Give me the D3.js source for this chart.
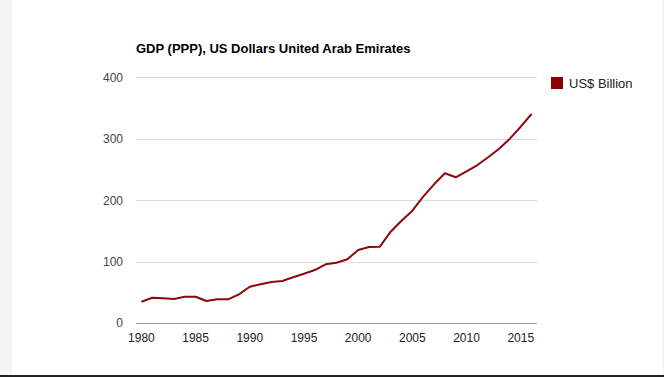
<!DOCTYPE html>
<html>
<head>
<meta charset="utf-8">
<script src="https://cdn.jsdelivr.net/npm/d3@7"></script>
<style>
  html, body { margin: 0; padding: 0; background: #fff; }
  svg { display: block; }
  text { font-family: Arial, "Liberation Sans", sans-serif; }
</style>
</head>
<body>
<svg id="chart" width="664" height="377"></svg>
<script>
const years = [1980,1981,1982,1983,1984,1985,1986,1987,1988,1989,1990,1991,1992,1993,1994,1995,1996,1997,1998,1999,2000,2001,2002,2003,2004,2005,2006,2007,2008,2009,2010,2011,2012,2013,2014,2015,2016];
const gdpBillion = [34.7,41.2,40.2,39.1,42.8,42.8,35.8,38.6,38.6,46.7,59.1,63.0,66.8,68.4,74.4,80.3,86.3,95.6,98.2,103.7,118.9,123.8,124.3,148.7,166.6,182.9,205.7,225.9,243.8,237.3,247.0,257.3,269.9,283.9,300.2,319.7,340.4];
const yTicks = [0,100,200,300,400];
const xTicks = [1980,1985,1990,1995,2000,2005,2010,2015];
const title = "GDP (PPP), US Dollars United Arab Emirates";
const seriesName = "US$ Billion";

(function () {
const svg = d3.select("#chart");
const W = 664, H = 377;

// page frame
svg.append("rect").attr("x",0).attr("y",0).attr("width",W).attr("height",H).attr("fill","#fff");
svg.append("rect").attr("x",0).attr("y",0).attr("width",12).attr("height",H).attr("fill","#f5f5f5");
svg.append("rect").attr("x",662).attr("y",0).attr("width",2).attr("height",H).attr("fill","#f5f5f5");
svg.append("rect").attr("x",0).attr("y",375).attr("width",W).attr("height",2).attr("fill","#222");

const mLeft = 136, mRight = 537, mTop = 77.4, mBottom = 323;
const x = d3.scaleLinear().domain([1979.5, 2016.5]).range([mLeft, mRight]);
const y = d3.scaleLinear().domain([0, 400]).range([mBottom, mTop]);

// gridlines
svg.append("g").selectAll("line").data(yTicks.filter(d => d !== 0)).join("line")
  .attr("x1", mLeft).attr("x2", mRight)
  .attr("y1", d => Math.round(y(d)) + 0.5).attr("y2", d => Math.round(y(d)) + 0.5)
  .attr("stroke", "#dcdcdc").attr("stroke-width", 1);

// y labels
svg.append("g").selectAll("text").data(yTicks).join("text")
  .attr("x", 123).attr("y", d => y(d)).attr("dy", "0.36em")
  .attr("text-anchor", "end").attr("font-size", 12).attr("fill", "#444")
  .text(d => d);

// x labels
svg.append("g").selectAll("text").data(xTicks).join("text")
  .attr("x", d => x(d)).attr("y", 342)
  .attr("text-anchor", "middle").attr("font-size", 12).attr("fill", "#222")
  .text(d => d);

// line
const data = years.map((yr, i) => ({yr, v: gdpBillion[i]}));
svg.append("path").datum(data)
  .attr("fill", "none").attr("stroke", "#8b0a0a").attr("stroke-width", 2)
  .attr("stroke-linejoin", "round")
  .attr("d", d3.line().x(d => x(d.yr)).y(d => y(d.v)));

// baseline
svg.append("line").attr("x1", mLeft).attr("x2", mRight)
  .attr("y1", Math.round(y(0)) + 0.5).attr("y2", Math.round(y(0)) + 0.5)
  .attr("stroke", "#999").attr("stroke-width", 1);

// title
svg.append("text").attr("x", 136).attr("y", 53)
  .attr("font-size", 13).attr("font-weight", "bold").attr("fill", "#000")
  .text(title);

// legend
svg.append("rect").attr("x", 551).attr("y", 77).attr("width", 12).attr("height", 12)
  .attr("fill", "#8b0000");
svg.append("text").attr("x", 569).attr("y", 87.5)
  .attr("font-size", 13).attr("fill", "#222")
  .text(seriesName);
})();
</script>
</body>
</html>
